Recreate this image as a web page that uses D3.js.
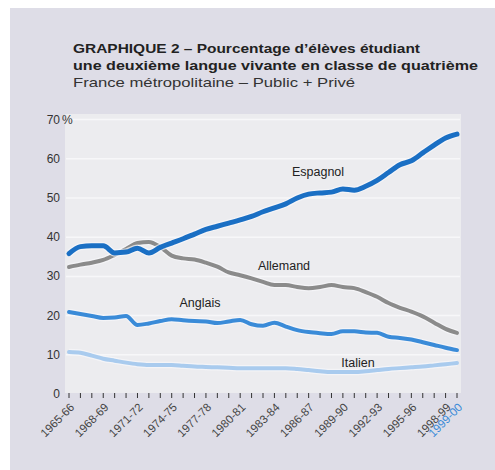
<!DOCTYPE html>
<html>
<head>
<meta charset="utf-8">
<script src="https://cdn.jsdelivr.net/npm/d3@7"></script>
<style>
  body { margin: 0; background: #fff; }
  text { font-family: "Liberation Sans", Arial, sans-serif; }
</style>
</head>
<body>
<main></main>
<script>
// school years 1965-66 .. 1999-00
var years = [];
for (var k = 1965; k <= 1999; k++) {
  years.push(k + "-" + String((k + 1) % 100).padStart(2, "0"));
}
var tickLabels = ["1965-66","1968-69","1971-72","1974-75","1977-78","1980-81","1983-84",
  "1986-87","1989-90","1992-93","1995-96","1998-99"];
var lastLabel = "1999-00";
var yTicks = [0, 10, 20, 30, 40, 50, 60, 70];

var espagnol = [35.8,37.6,37.8,37.8,36.0,36.2,37.2,36.0,37.4,38.5,39.6,40.8,42.0,42.8,43.6,44.4,
  45.3,46.5,47.5,48.5,50.0,51.0,51.3,51.5,52.3,52.0,53.0,54.5,56.5,58.5,59.5,61.5,63.5,65.3,66.3];
var allemand = [32.4,33.0,33.5,34.2,35.5,37.0,38.5,38.8,37.5,35.3,34.6,34.3,33.5,32.5,31.0,30.3,
  29.5,28.6,27.8,27.8,27.3,27.0,27.3,27.8,27.3,27.0,26.0,24.8,23.2,22.0,21.0,19.8,18.2,16.6,15.6];
var anglais = [20.9,20.4,19.9,19.4,19.5,19.9,17.6,18.0,18.6,19.1,18.8,18.6,18.5,18.1,18.5,18.9,
  17.8,17.4,18.2,17.2,16.3,15.8,15.5,15.3,16.0,16.0,15.7,15.6,14.6,14.3,13.9,13.2,12.5,11.8,11.2];
var italien = [10.7,10.5,9.8,9.0,8.5,8.0,7.6,7.4,7.4,7.4,7.2,7.0,6.9,6.8,6.7,6.6,
  6.6,6.6,6.6,6.6,6.4,6.1,5.8,5.6,5.6,5.6,5.8,6.1,6.4,6.6,6.8,7.0,7.3,7.6,7.9];

var series = [
  {name: "Italien",  values: italien,  color: "#a9cbee", width: 4,   lx: 358, ly: 367},
  {name: "Anglais",  values: anglais,  color: "#3a8bd8", width: 4,   lx: 200, ly: 307},
  {name: "Allemand", values: allemand, color: "#8b8b8b", width: 4,   lx: 284, ly: 270},
  {name: "Espagnol", values: espagnol, color: "#1a6fc4", width: 5,   lx: 318, ly: 176}
];

var svg = d3.select("main")
  .append("svg")
    .attr("width", 495)
    .attr("height", 470);

svg.append("rect")
  .attr("x", 10).attr("y", 8)
  .attr("width", 485).attr("height", 462)
  .attr("fill", "#dedde7");

var x = d3.scalePoint().domain(years).range([69, 457]);
var y = d3.scaleLinear().domain([0, 70]).range([394, 119.6]);

// plot background
svg.append("rect")
  .attr("x", 65).attr("y", 114)
  .attr("width", 396).attr("height", 279)
  .attr("fill", "#ececef");

// faint white gridlines
svg.selectAll(".grid")
  .data(yTicks.filter(function(d) { return d > 0; }))
  .enter().append("line")
    .attr("x1", 66).attr("x2", 460)
    .attr("y1", function(d) { return y(d); })
    .attr("y2", function(d) { return y(d); })
    .attr("stroke", "#f7f7f9")
    .attr("stroke-width", 1.5);

// title
svg.append("text")
  .attr("x", 73).attr("y", 53)
  .attr("font-size", 13).attr("font-weight", "bold").attr("fill", "#222")
  .attr("textLength", 347).attr("lengthAdjust", "spacingAndGlyphs")
  .text("GRAPHIQUE 2 – Pourcentage d’élèves étudiant");
svg.append("text")
  .attr("x", 73).attr("y", 70)
  .attr("font-size", 13).attr("font-weight", "bold").attr("fill", "#222")
  .attr("textLength", 405).attr("lengthAdjust", "spacingAndGlyphs")
  .text("une deuxième langue vivante en classe de quatrième");
svg.append("text")
  .attr("x", 73).attr("y", 87)
  .attr("font-size", 13).attr("fill", "#333")
  .attr("textLength", 282).attr("lengthAdjust", "spacingAndGlyphs")
  .text("France métropolitaine – Public + Privé");

// y axis labels
svg.selectAll(".ylab")
  .data(yTicks)
  .enter().append("text")
    .attr("x", 60)
    .attr("y", function(d) { return y(d) + 4; })
    .attr("text-anchor", "end")
    .attr("font-size", 12)
    .attr("fill", "#333")
    .text(function(d) { return d; });
svg.append("text")
  .attr("x", 62).attr("y", y(70) + 4)
  .attr("font-size", 12).attr("fill", "#333")
  .text("%");

// x ticks
svg.selectAll(".xtick")
  .data(years)
  .enter().append("line")
    .attr("x1", function(d) { return x(d); })
    .attr("x2", function(d) { return x(d); })
    .attr("y1", 393).attr("y2", 398)
    .attr("stroke", "#333")
    .attr("stroke-width", 1);

svg.selectAll(".xlab")
  .data(tickLabels.concat([lastLabel]))
  .enter().append("text")
    .attr("transform", function(d) { return "translate(" + (x(d) + 6) + ",408) rotate(-45)"; })
    .attr("text-anchor", "end")
    .attr("font-size", 11.5)
    .attr("fill", function(d) { return d === lastLabel ? "#3a8bd8" : "#444"; })
    .text(function(d) { return d; });

// lines
var line = d3.line()
  .x(function(d, i) { return x(years[i]); })
  .y(function(d) { return y(d); })
  .curve(d3.curveMonotoneX);

series.forEach(function(s) {
  svg.append("path")
    .attr("d", line(s.values))
    .attr("fill", "none")
    .attr("stroke", "#f8f8fb")
    .attr("stroke-opacity", 0.7)
    .attr("stroke-width", s.width + 2.5)
    .attr("stroke-linejoin", "round");
  svg.append("path")
    .attr("d", line(s.values))
    .attr("fill", "none")
    .attr("stroke", s.color)
    .attr("stroke-width", s.width)
    .attr("stroke-linejoin", "round")
    .attr("stroke-linecap", "round");
  svg.append("text")
    .attr("x", s.lx).attr("y", s.ly)
    .attr("text-anchor", "middle")
    .attr("font-size", 12.5)
    .attr("fill", "#222")
    .text(s.name);
});
</script>
</body>
</html>
